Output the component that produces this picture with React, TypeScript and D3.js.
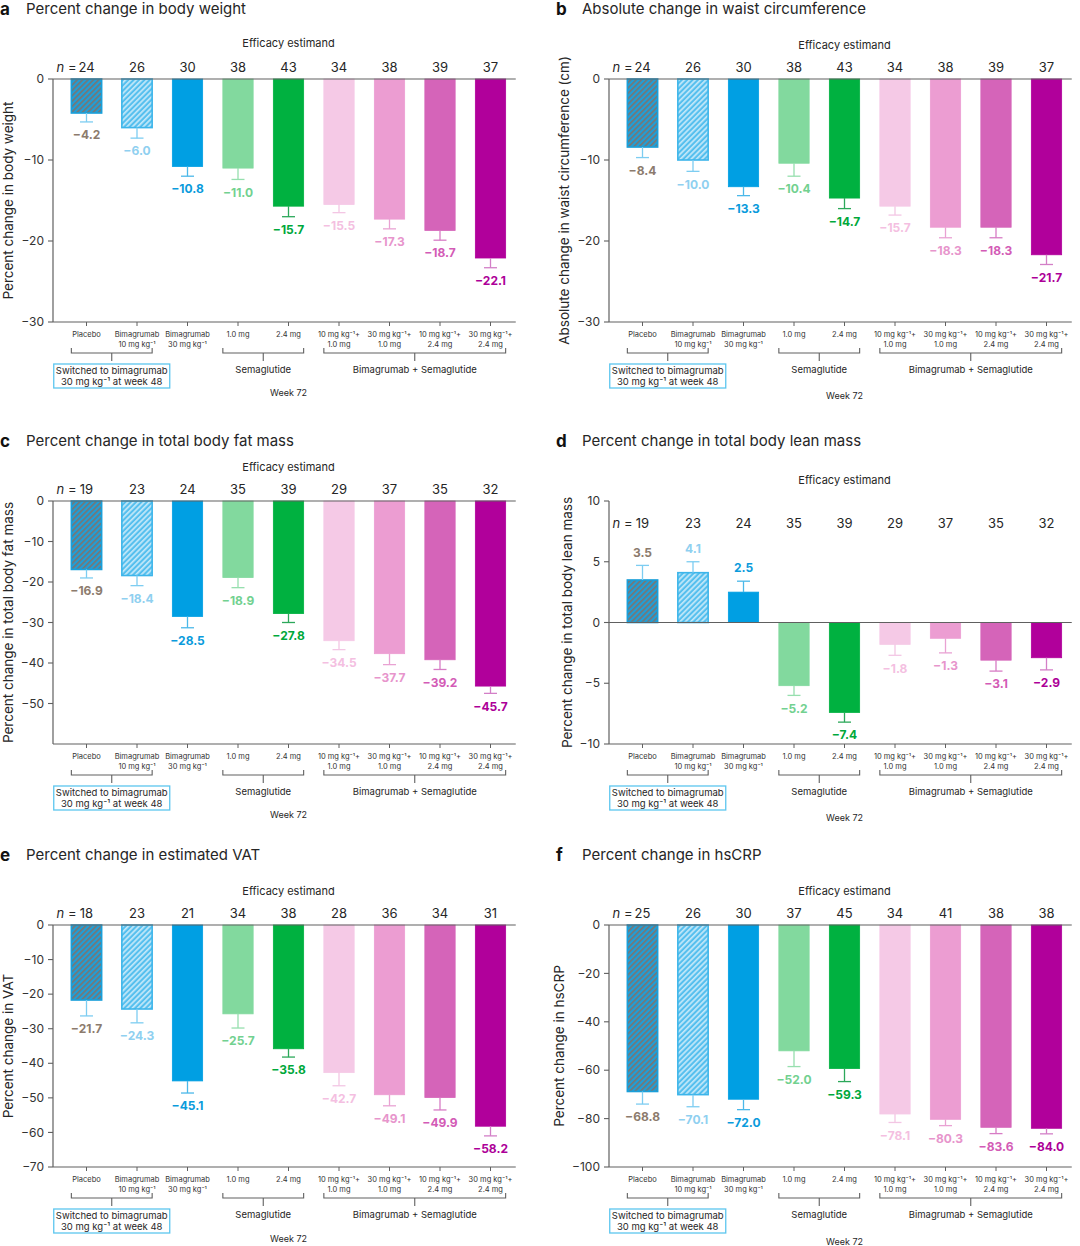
import { useEffect } from 'react';
import * as d3 from 'd3';

// categories (x axis)
const CAT_KEYS = ['pbo', 'bim10', 'bim30', 'sem10', 'sem24', 'c10_10', 'c30_10', 'c10_24', 'c30_24'];
const CAT_LINE1 = ['Placebo', 'Bimagrumab', 'Bimagrumab', '1.0 mg', '2.4 mg', '10 mg kg⁻¹+', '30 mg kg⁻¹+', '10 mg kg⁻¹+', '30 mg kg⁻¹+'];
const CAT_LINE2 = ['', '10 mg kg⁻¹', '30 mg kg⁻¹', '', '', '1.0 mg', '1.0 mg', '2.4 mg', '2.4 mg'];

const GROUP_LABELS = ['', 'Semaglutide', 'Bimagrumab + Semaglutide'];
const GROUP_FROM = [0, 3, 5];
const GROUP_TO = [1, 4, 8];
const BOX_LINES = ['Switched to bimagrumab', '30 mg kg⁻¹ at week 48'];

// a: body weight
const A_N = [24, 26, 30, 38, 43, 34, 38, 39, 37];
const A_VALUES = [-4.2, -6.0, -10.8, -11.0, -15.7, -15.5, -17.3, -18.7, -22.1];
const A_ERR = [1.1, 1.3, 1.2, 1.4, 1.3, 1.0, 1.2, 1.2, 1.2];
const A_TICKS = [0, -10, -20, -30];

// b: waist circumference
const B_N = [24, 26, 30, 38, 43, 34, 38, 39, 37];
const B_VALUES = [-8.4, -10.0, -13.3, -10.4, -14.7, -15.7, -18.3, -18.3, -21.7];
const B_ERR = [1.3, 1.4, 1.1, 1.6, 1.3, 1.1, 1.3, 1.3, 1.2];
const B_TICKS = [0, -10, -20, -30];

// c: total body fat mass
const C_N = [19, 23, 24, 35, 39, 29, 37, 35, 32];
const C_VALUES = [-16.9, -18.4, -28.5, -18.9, -27.8, -34.5, -37.7, -39.2, -45.7];
const C_ERR = [2.1, 2.5, 2.8, 2.5, 2.2, 2.2, 2.7, 2.4, 1.8];
const C_TICKS = [0, -10, -20, -30, -40, -50];

// d: total body lean mass
const D_N = [19, 23, 24, 35, 39, 29, 37, 35, 32];
const D_VALUES = [3.5, 4.1, 2.5, -5.2, -7.4, -1.8, -1.3, -3.1, -2.9];
const D_ERR = [1.2, 0.9, 0.9, 0.8, 0.8, 0.9, 1.2, 0.9, 1.0];
const D_TICKS = [10, 5, 0, -5, -10];

// e: estimated VAT
const E_N = [18, 23, 21, 34, 38, 28, 36, 34, 31];
const E_VALUES = [-21.7, -24.3, -45.1, -25.7, -35.8, -42.7, -49.1, -49.9, -58.2];
const E_ERR = [4.6, 4.0, 3.5, 4.1, 2.4, 3.8, 3.2, 3.6, 2.8];
const E_TICKS = [0, -10, -20, -30, -40, -50, -60, -70];

// f: hsCRP
const F_N = [25, 26, 30, 37, 45, 34, 41, 38, 38];
const F_VALUES = [-68.8, -70.1, -72.0, -52.0, -59.3, -78.1, -80.3, -83.6, -84.0];
const F_ERR = [5.2, 5.0, 4.3, 6.5, 5.4, 3.5, 2.6, 2.6, 2.3];
const F_TICKS = [0, -20, -40, -60, -80, -100];

const BAR_FILL = ['url(#hatch-pbo)', 'url(#hatch-bim10)', '#009fe3', '#82d99e', '#00b140', '#f5c9e6', '#ec9dd2', '#d564b9', '#b1009b'];
const BAR_STROKE = ['#1a9fd9', '#3cb5ea', '#009fe3', '#82d99e', '#00b140', '#f5c9e6', '#ec9dd2', '#d564b9', '#b1009b'];
const ERR_COLOR = ['#7dcdf1', '#7dcdf1', '#4bb8e9', '#96dfae', '#2ca85a', '#f3c6e4', '#e9a2d3', '#d77cc5', '#d37fc7'];
const LABEL_COLOR = ['#8c7b6d', '#8fd0f0', '#0a9bdc', '#72d190', '#00a83b', '#f4bfe1', '#e795cc', '#d35bb6', '#ad0098'];

const FONT = "Inter, 'Noto Sans', 'DejaVu Sans', sans-serif";
const AXIS = '#606060';
const INK = '#262626';

interface PanelCfg {
  letter: string;
  title: string;
  yTitle: string;
  n: number[];
  values: number[];
  err: number[];
  domain: [number, number];
  ticks: number[];
  ax: number;
  titleY: number;
  effY: number;
  nY: number;
  y0: number;
  y1: number;
  yTitleX: number;
  weekDy: number;
}

const fmt = (v: number) => (v < 0 ? '−' : '') + Math.abs(v).toFixed(1);
const fmtTick = (v: number) => (v < 0 ? '−' : '') + Math.abs(v);

function Panel({ cfg }: { cfg: PanelCfg }) {
  const y = d3.scaleLinear().domain(cfg.domain).range([cfg.y1, cfg.y0]);
  const r0 = cfg.ax + 8.25;
  const x = d3.scaleBand<string>()
    .domain(CAT_KEYS)
    .range([r0, r0 + 454.5])
    .paddingInner(0.4)
    .paddingOuter(0.2);
  const bw = x.bandwidth();
  const cx = (i: number) => (x(CAT_KEYS[i]) ?? 0) + bw / 2;
  const mid = (r0 + r0 + 454.5) / 2;
  const xEnd = r0 + 454.5;
  const titleX = cfg.ax < 300 ? 0 : 556;
  const bracketY = cfg.y1 + 31;

  return (
    <g fontFamily={FONT}>
      {/* panel title */}
      <text x={titleX} y={cfg.titleY} dy="0.35em" fontSize={17} fontWeight={700} fill="#111">{cfg.letter}</text>
      <text x={titleX + 26} y={cfg.titleY} dy="0.35em" fontSize={15} fill={INK}>{cfg.title}</text>
      <text x={mid} y={cfg.effY} dy="0.35em" fontSize={11} fill={INK} textAnchor="middle">Efficacy estimand</text>

      {/* n labels */}
      {cfg.n.map((n, i) => (
        <text key={'n' + i} x={cx(i)} y={cfg.nY} dy="0.35em" fontSize={13} fill={INK} textAnchor="middle">{n}</text>
      ))}
      <text x={cx(0) - 10} y={cfg.nY} dy="0.35em" fontSize={13} fill={INK} textAnchor="end">
        <tspan fontStyle="italic">n</tspan> =
      </text>

      {/* bars */}
      {cfg.values.map((v, i) => {
        const top = Math.min(y(v), y(0));
        const h = Math.abs(y(v) - y(0));
        const hatched = i < 2;
        return (
          <rect key={'b' + i} x={x(CAT_KEYS[i])} y={top} width={bw} height={h}
            fill={BAR_FILL[i]} stroke={BAR_STROKE[i]} strokeWidth={hatched ? 1.6 : 0.8} />
        );
      })}

      {/* error bars */}
      {cfg.values.map((v, i) => {
        const end = v < 0 ? v - cfg.err[i] : v + cfg.err[i];
        return (
          <g key={'e' + i} stroke={ERR_COLOR[i]} strokeWidth={1.3}>
            <line x1={cx(i)} x2={cx(i)} y1={y(v)} y2={y(end)} />
            <line x1={cx(i) - 6.5} x2={cx(i) + 6.5} y1={y(end)} y2={y(end)} />
          </g>
        );
      })}

      {/* value labels */}
      {cfg.values.map((v, i) => {
        const end = v < 0 ? v - cfg.err[i] : v + cfg.err[i];
        const ly = v < 0 ? y(end) + 13 : y(end) - 13;
        return (
          <text key={'l' + i} x={cx(i)} y={ly} dy="0.35em" fontSize={12} fontWeight={700}
            fill={LABEL_COLOR[i]} textAnchor="middle">{fmt(v)}</text>
        );
      })}

      {/* y axis */}
      <line x1={cfg.ax} x2={cfg.ax} y1={cfg.y0} y2={cfg.y1} stroke={AXIS} strokeWidth={1.2} />
      {cfg.ticks.map(t => (
        <g key={'t' + t}>
          <line x1={cfg.ax - 5} x2={cfg.ax} y1={y(t)} y2={y(t)} stroke={AXIS} strokeWidth={1.1} />
          <text x={cfg.ax - 9} y={y(t)} dy="0.35em" fontSize={12} fill="#333" textAnchor="end">{fmtTick(t)}</text>
        </g>
      ))}
      <text transform={`translate(${cfg.yTitleX},${(cfg.y0 + cfg.y1) / 2}) rotate(-90)`} dy="0.35em"
        fontSize={13.5} fill={INK} textAnchor="middle">{cfg.yTitle}</text>

      {/* zero line and bottom axis */}
      <line x1={cfg.ax} x2={xEnd} y1={y(0)} y2={y(0)} stroke={AXIS} strokeWidth={1.1} />
      <line x1={cfg.ax} x2={xEnd} y1={cfg.y1} y2={cfg.y1} stroke={AXIS} strokeWidth={1.2} />
      {CAT_KEYS.map((k, i) => (
        <g key={'x' + k}>
          <line x1={cx(i)} x2={cx(i)} y1={cfg.y1} y2={cfg.y1 + 4} stroke={AXIS} strokeWidth={1} />
          <text x={cx(i)} y={cfg.y1 + 12} dy="0.35em" fontSize={7.5} fill="#333" textAnchor="middle">{CAT_LINE1[i]}</text>
          {CAT_LINE2[i] && (
            <text x={cx(i)} y={cfg.y1 + 22} dy="0.35em" fontSize={7.5} fill="#333" textAnchor="middle">{CAT_LINE2[i]}</text>
          )}
        </g>
      ))}

      {/* group brackets */}
      {GROUP_LABELS.map((g, gi) => {
        const xa = (x(CAT_KEYS[GROUP_FROM[gi]]) ?? 0);
        const xb = (x(CAT_KEYS[GROUP_TO[gi]]) ?? 0) + bw;
        const xm = (xa + xb) / 2;
        return (
          <g key={'g' + gi}>
            <path d={`M${xa},${bracketY - 5}V${bracketY}H${xb}V${bracketY - 5}M${xm},${bracketY}V${bracketY + 8}`}
              fill="none" stroke={AXIS} strokeWidth={1.1} />
            {g && (
              <text x={xm} y={cfg.y1 + 48} dy="0.35em" fontSize={9.5} fill={INK} textAnchor="middle">{g}</text>
            )}
            {gi === 0 && (
              <g>
                <rect x={xm - 58} y={cfg.y1 + 42} width={116} height={24} fill="#fff" stroke="#5cc6ef" strokeWidth={1.3} />
                <text x={xm} y={cfg.y1 + 49} dy="0.35em" fontSize={9.5} fill={INK} textAnchor="middle">{BOX_LINES[0]}</text>
                <text x={xm} y={cfg.y1 + 60} dy="0.35em" fontSize={9.5} fill={INK} textAnchor="middle">{BOX_LINES[1]}</text>
              </g>
            )}
          </g>
        );
      })}
      <text x={mid} y={cfg.y1 + cfg.weekDy} dy="0.35em" fontSize={9} fill={INK} textAnchor="middle">Week 72</text>
    </g>
  );
}

const PANELS: PanelCfg[] = [
  { letter: 'a', title: 'Percent change in body weight', yTitle: 'Percent change in body weight',
    n: A_N, values: A_VALUES, err: A_ERR, domain: [-30, 0], ticks: A_TICKS,
    ax: 53, titleY: 9, effY: 43, nY: 67, y0: 79, y1: 322, yTitleX: 8, weekDy: 71 },
  { letter: 'b', title: 'Absolute change in waist circumference', yTitle: 'Absolute change in waist circumference (cm)',
    n: B_N, values: B_VALUES, err: B_ERR, domain: [-30, 0], ticks: B_TICKS,
    ax: 609, titleY: 9, effY: 45, nY: 67, y0: 79, y1: 322, yTitleX: 564, weekDy: 74 },
  { letter: 'c', title: 'Percent change in total body fat mass', yTitle: 'Percent change in total body fat mass',
    n: C_N, values: C_VALUES, err: C_ERR, domain: [-60, 0], ticks: C_TICKS,
    ax: 53, titleY: 441, effY: 467, nY: 489, y0: 501, y1: 744, yTitleX: 8, weekDy: 71 },
  { letter: 'd', title: 'Percent change in total body lean mass', yTitle: 'Percent change in total body lean mass',
    n: D_N, values: D_VALUES, err: D_ERR, domain: [-10, 10], ticks: D_TICKS,
    ax: 609, titleY: 441, effY: 480, nY: 523, y0: 501, y1: 744, yTitleX: 567, weekDy: 74 },
  { letter: 'e', title: 'Percent change in estimated VAT', yTitle: 'Percent change in VAT',
    n: E_N, values: E_VALUES, err: E_ERR, domain: [-70, 0], ticks: E_TICKS,
    ax: 53, titleY: 855, effY: 891, nY: 913, y0: 925, y1: 1167, yTitleX: 8, weekDy: 72 },
  { letter: 'f', title: 'Percent change in hsCRP', yTitle: 'Percent change in hsCRP',
    n: F_N, values: F_VALUES, err: F_ERR, domain: [-100, 0], ticks: F_TICKS,
    ax: 609, titleY: 855, effY: 891, nY: 913, y0: 925, y1: 1167, yTitleX: 559, weekDy: 75 },
];

export default function App() {
  useEffect(() => {
    document.body.style.margin = '0';
  }, []);

  return (
    <svg width={1080} height={1246} style={{ display: 'block', background: '#fff' }}>
      <defs>
        <pattern id="hatch-pbo" patternUnits="userSpaceOnUse" width={3.8} height={3.8} patternTransform="rotate(45)">
          <rect width={3.8} height={3.8} fill="#1f9fd8" />
          <rect width={1.7} height={3.8} fill="#767676" />
        </pattern>
        <pattern id="hatch-bim10" patternUnits="userSpaceOnUse" width={3.8} height={3.8} patternTransform="rotate(45)">
          <rect width={3.8} height={3.8} fill="#55bfee" />
          <rect width={1.7} height={3.8} fill="#c3e8f9" />
        </pattern>
      </defs>
      {PANELS.map(p => <Panel key={p.letter} cfg={p} />)}
    </svg>
  );
}
